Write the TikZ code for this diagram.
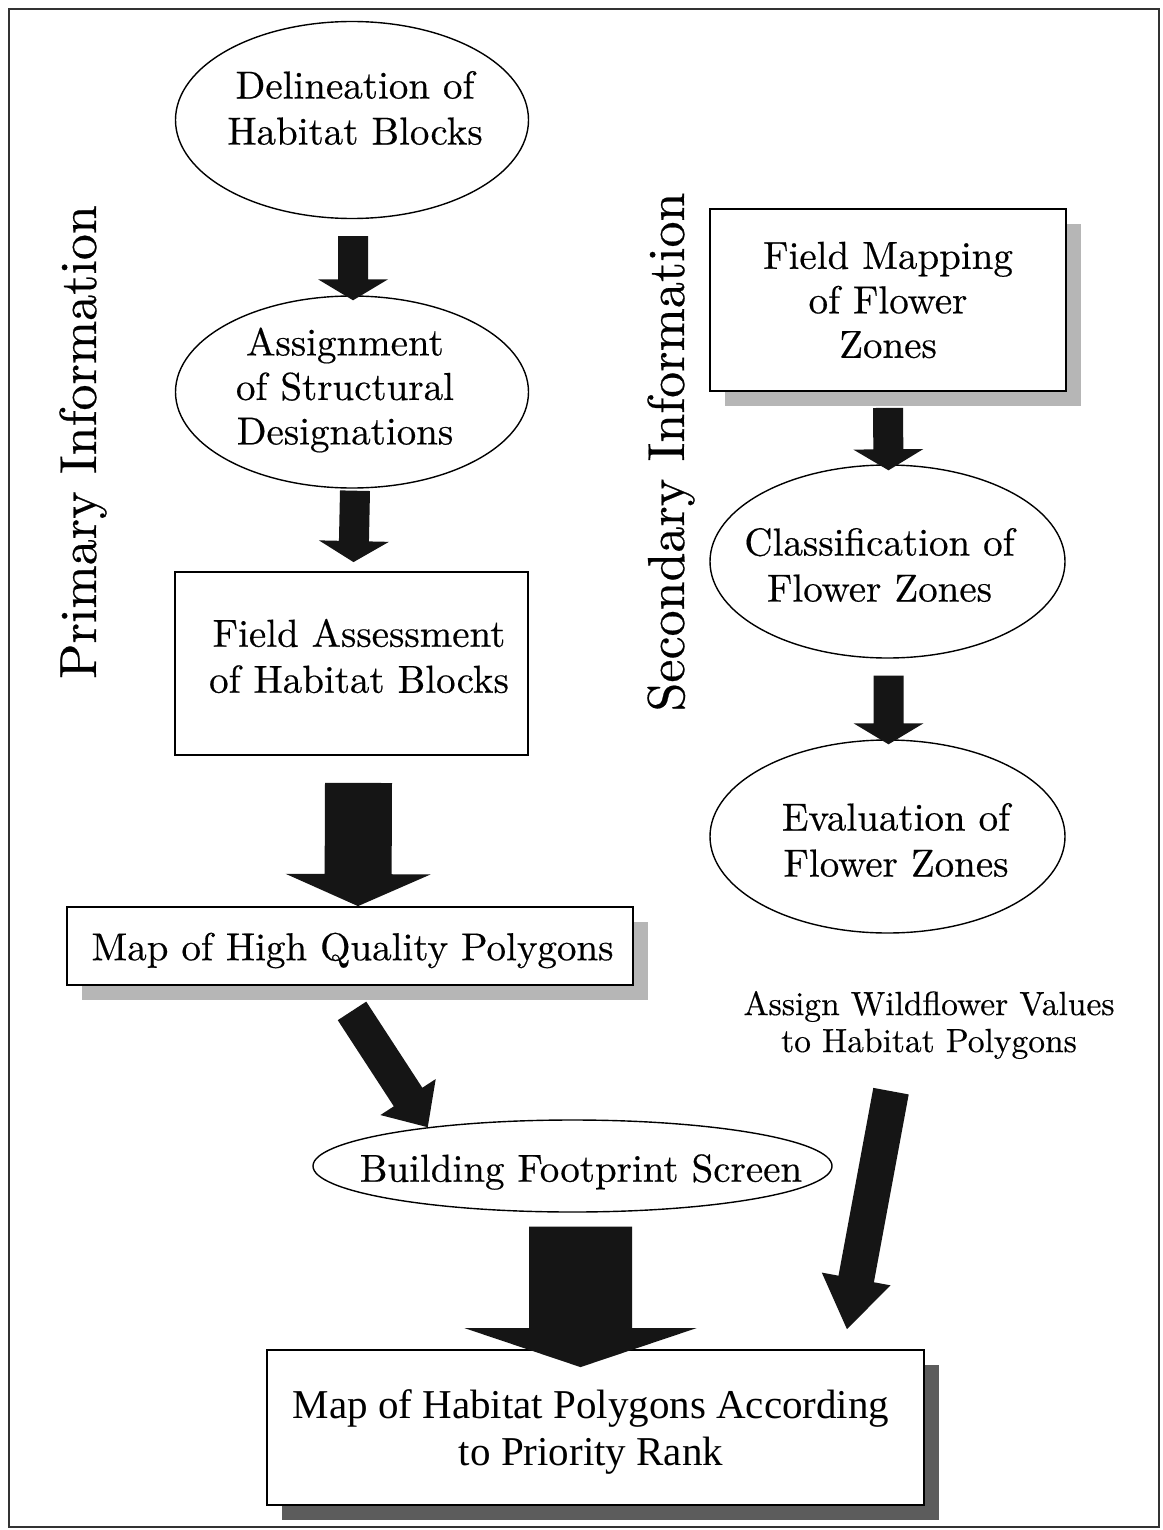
\documentclass[tikz,border=0pt]{standalone}
\usepackage{fontspec}
\setmainfont{lmroman10-regular.otf}[FakeBold=0.4]
\newfontfamily\timesfont{Liberation Serif}
\usetikzlibrary{calc,shapes.geometric,shadows}

\definecolor{arrowink}{HTML}{151515}
\definecolor{paleshade}{HTML}{B6B6B6}
\definecolor{darkshade}{HTML}{5C5C5C}

% filled block arrow: #1 start, #2 tip, #3 shaft half width, #4 head half width, #5 head length
\newcommand\blockarrow[5]{%
  \coordinate (ba-s) at (#1);
  \coordinate (ba-t) at (#2);
  \coordinate (ba-b) at ($(ba-t)!#5!(ba-s)$);
  \fill[arrowink]
    ($(ba-s)!#3!90:(ba-t)$) -- ($(ba-b)!#3!90:(ba-t)$) -- ($(ba-b)!#4!90:(ba-t)$)
    -- (ba-t)
    -- ($(ba-b)!#4!-90:(ba-t)$) -- ($(ba-b)!#3!-90:(ba-t)$) -- ($(ba-s)!#3!-90:(ba-t)$)
    -- cycle;
}

\tikzset{
  oval/.style={ellipse, draw, line width=1.4pt, fill=white, inner xsep=-40pt, inner ysep=0pt},
  card/.style={rectangle, draw, line width=1.8pt, fill=white, inner sep=0pt},
  bodytext/.style={inner sep=0pt, align=center, font=\fontsize{39}{46}\selectfont},
  threeline/.style={inner sep=0pt, align=center, font=\fontsize{39}{44.5}\selectfont},
  ranktext/.style={inner sep=0pt, align=center, font=\timesfont\fontsize{41}{47}\selectfont},
  notetext/.style={inner sep=0pt, align=center, font=\fontsize{33.5}{37}\selectfont},
  sidetitle/.style={rotate=90, anchor=base, inner sep=0pt, font=\fontsize{52}{60}\selectfont},
  paleshadow/.style={drop shadow={shadow xshift=15pt, shadow yshift=-15pt, fill=paleshade, opacity=1}},
  darkshadow/.style={drop shadow={shadow xshift=15pt, shadow yshift=-15pt, fill=darkshade, opacity=1}},
}

\begin{document}
\begin{tikzpicture}[x=1pt,y=-1pt]
\useasboundingbox (0,0) rectangle (1162,1530);
\fill[white] (0,0) rectangle (1162,1530);
\draw[line width=1.3pt, black!80] (9,9) rectangle (1159,1527);

% side titles
\node[sidetitle] (primary) at (96,442) {Primary Information};
\node[sidetitle] (secondary) at (684,452) {Secondary Information};

% primary column
\node[oval, minimum width=353pt, minimum height=197pt,
      label={[bodytext, name=e1-text, xshift=3pt, yshift=12pt]center:Delineation of\\Habitat Blocks}]
      (e1) at (352,120) {};
\node[oval, minimum width=353pt, minimum height=192pt,
      label={[threeline, name=e2-text, xshift=-7pt, yshift=2pt]center:Assignment\\of Structural\\Designations}]
      (e2) at (352,392) {};
\node[card, minimum width=353pt, minimum height=183pt,
      label={[bodytext, name=b1-text, xshift=7.5pt, yshift=7.5pt]center:Field Assessment\\of Habitat Blocks}]
      (b1) at (351.5,663.5) {};
\node[card, paleshadow, minimum width=566pt, minimum height=78pt,
      label={[bodytext, name=b2-text, xshift=2.5pt, yshift=-4.5pt]center:Map of High Quality Polygons}]
      (b2) at (350,946) {};
\node[oval, minimum width=519pt, minimum height=92pt,
      label={[bodytext, name=e3-text, xshift=8.5pt, yshift=-6pt]center:Building Footprint Screen}]
      (e3) at (572.5,1166) {};
\node[card, darkshadow, minimum width=657pt, minimum height=155pt,
      label={[ranktext, name=b3-text, xshift=-4.5pt, yshift=-4.5pt]center:Map of Habitat Polygons According\\to Priority Rank}]
      (b3) at (595.5,1427.5) {};

% secondary column
\node[card, paleshadow, minimum width=356pt, minimum height=182pt,
      label={[threeline, name=b4-text]center:Field Mapping\\of Flower\\Zones}]
      (b4) at (888,300) {};
\node[oval, minimum width=355pt, minimum height=193pt,
      label={[bodytext, name=e4-text, xshift=-8pt, yshift=-3.5pt]center:Classification of\\Flower Zones}]
      (e4) at (887.5,561.5) {};
\node[oval, minimum width=355pt, minimum height=193pt,
      label={[bodytext, name=e5-text, xshift=8.5pt, yshift=-3.5pt]center:Evaluation of\\Flower Zones}]
      (e5) at (887.5,836.5) {};
\node[notetext] (wf) at (929,1025) {Assign Wildflower Values\\to Habitat Polygons};

% connector end points
\coordinate (a1s) at ($(e1.south)+(1,17)$);
\coordinate (a1t) at ($(e2.north)+(1,5)$);
\coordinate (a2s) at ($(e2.south)+(3,2)$);
\coordinate (a2t) at ($(b1.north)+(2,-9)$);
\coordinate (a3s) at ($(b1.south)+(7,27)$);
\coordinate (a3t) at ($(b2.north)+(8,0)$);
\coordinate (a4s) at ($(b2.south)+(2,25)$);
\coordinate (a4t) at (e3.165);
\coordinate (a5s) at ($(e3.south)+(8,14)$);
\coordinate (a5t) at ($(b3.north)+(-15,18)$);
\coordinate (a6s) at ($(b4.south)+(0,16)$);
\coordinate (a6t) at ($(e4.north)+(1,6)$);
\coordinate (a7s) at ($(e4.south)+(1,17)$);
\coordinate (a7t) at ($(e5.north)+(1,5)$);
\coordinate (a8s) at ($(wf.south)+(-38,32)$);
\coordinate (a8t) at ($(b3.north east)+(-78,-20)$);

% block arrows
\blockarrow{a1s}{a1t}{15pt}{35pt}{21pt}
\blockarrow{a2s}{a2t}{15pt}{35pt}{21pt}
\blockarrow{a3s}{a3t}{33.5pt}{72.5pt}{32pt}
\blockarrow{a4s}{a4t}{17pt}{33pt}{36pt}
\blockarrow{a5s}{a5t}{51.5pt}{116pt}{39pt}
\blockarrow{a6s}{a6t}{15pt}{35pt}{21pt}
\blockarrow{a7s}{a7t}{15pt}{35pt}{21pt}
\blockarrow{a8s}{a8t}{18pt}{35pt}{51pt}
\end{tikzpicture}
\end{document}
